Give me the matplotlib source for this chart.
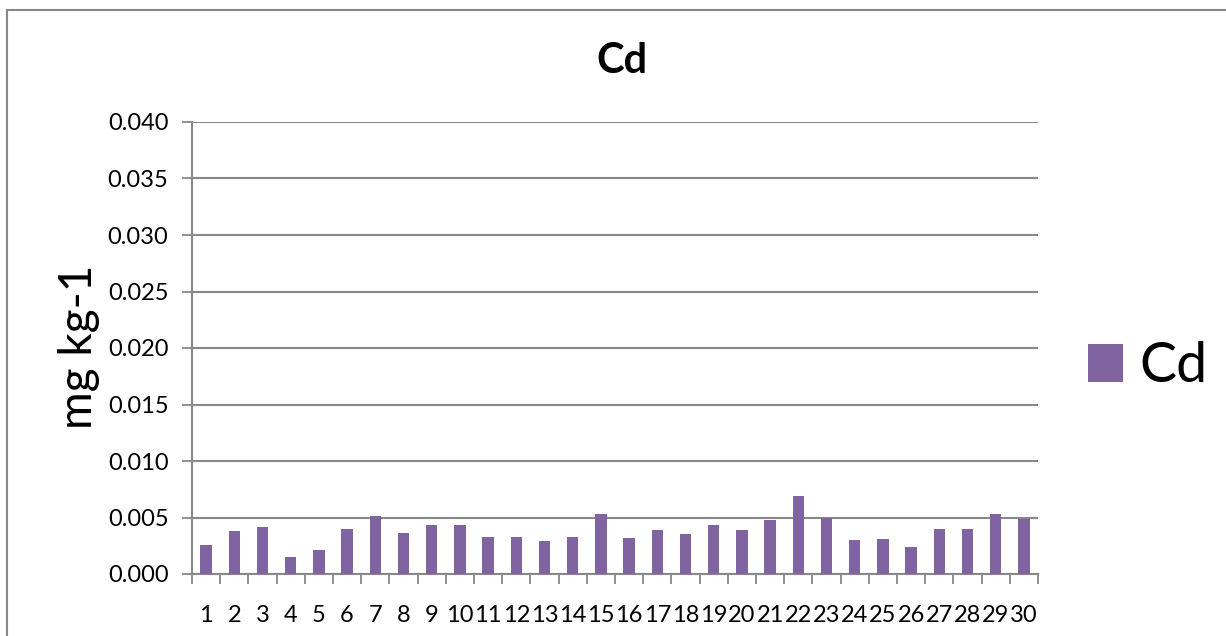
import matplotlib
matplotlib.use("Agg")
import matplotlib.pyplot as plt
from matplotlib.patches import Rectangle
from matplotlib.ticker import FixedLocator, FuncFormatter

plt.rcParams['font.family'] = ['Lato', 'DejaVu Sans']

samples = list(range(1, 31))
cd_values = [0.0026, 0.0038, 0.0042, 0.0015, 0.0021, 0.0040, 0.0051, 0.0036, 0.0043, 0.0043,
             0.0033, 0.0033, 0.0029, 0.0033, 0.0053, 0.0032, 0.0039, 0.0035, 0.0043, 0.0039,
             0.0048, 0.0069, 0.0050, 0.0030, 0.0031, 0.0024, 0.0040, 0.0040, 0.0053, 0.0049]
y_ticks = [0.000, 0.005, 0.010, 0.015, 0.020, 0.025, 0.030, 0.035, 0.040]

bar_color = '#8064A2'
grid_color = '#888888'

W, H = 1226, 636
fig = plt.figure(figsize=(W / 100, H / 100), dpi=100)
ax = fig.add_axes([192 / W, 1 - 574 / H, (1038 - 192) / W, (574 - 122) / H])

# outer chart frame
fig.patches.append(Rectangle((7 / W, -0.1), 1.2, 1 - 10 / H + 0.1, transform=fig.transFigure,
                             fill=False, edgecolor=grid_color, linewidth=1.5, zorder=0))

bars = ax.bar(samples, cd_values, width=0.4, color=bar_color, label='Cd', zorder=3)

ax.set_xlim(0.5, 30.5)
ax.set_ylim(0, 0.040)
ax.set_yticks(y_ticks)
ax.yaxis.set_major_formatter(FuncFormatter(lambda v, p: f"{v:.3f}"))

# category boundaries get tick marks, centres get the labels
ax.xaxis.set_major_locator(FixedLocator([i + 0.5 for i in range(0, 31)]))
ax.xaxis.set_major_formatter(FuncFormatter(lambda v, p: ''))
ax.xaxis.set_minor_locator(FixedLocator(samples))
ax.xaxis.set_minor_formatter(FuncFormatter(lambda v, p: f"{int(round(v))}"))
ax.tick_params(axis='x', which='major', length=7, width=1.3, color=grid_color, direction='out')
ax.tick_params(axis='x', which='minor', length=0, labelsize=17, pad=22)
ax.tick_params(axis='y', length=7, width=1.3, color=grid_color, direction='out', labelsize=17, pad=10)

ax.grid(axis='y', color=grid_color, linewidth=1.5, zorder=0)
for side in ('top', 'right'):
    ax.spines[side].set_visible(False)
for side in ('left', 'bottom'):
    ax.spines[side].set_color(grid_color)
    ax.spines[side].set_linewidth(1.5)

ax.set_ylabel('mg kg-1', fontsize=33)
ax.yaxis.set_label_coords(100 / W, 1 - 347 / H, transform=fig.transFigure)

fig.text(622 / W, 1 - 61 / H, 'Cd', fontsize=30, fontweight='bold', ha='center', va='center')

fig.legend(handles=[bars], labels=['Cd'], loc='center left', bbox_to_anchor=(1088 / W, 1 - 367 / H),
           frameon=False, fontsize=40, handlelength=0.63, handleheight=0.65,
           handletextpad=0.3, borderpad=0, borderaxespad=0)

fig.savefig('out.png', dpi=100)
